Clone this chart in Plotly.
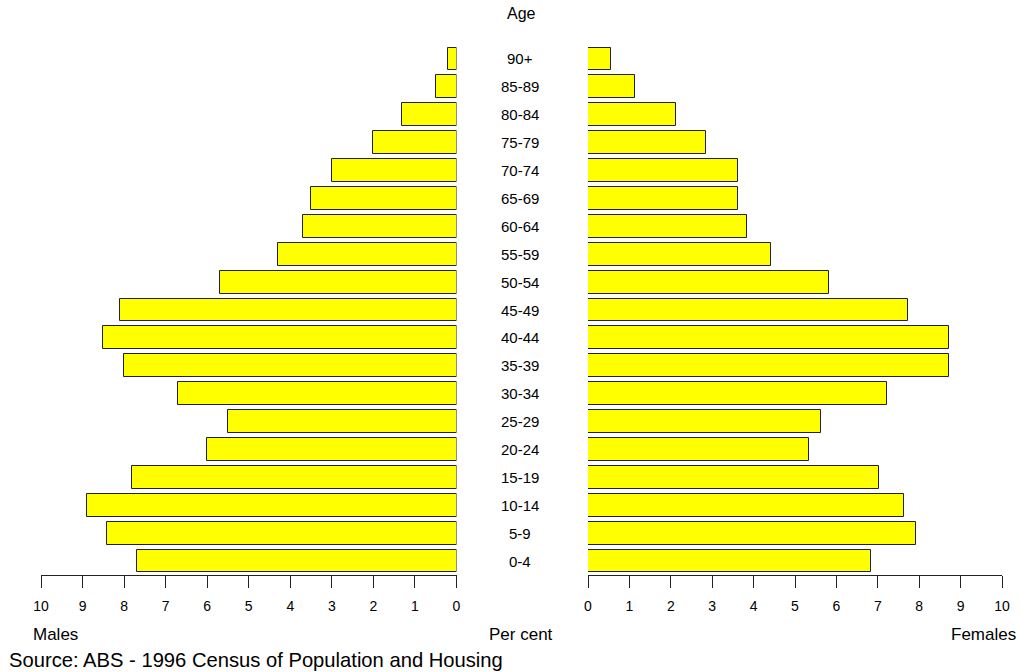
import plotly.graph_objects as go

age_groups = ["0-4", "5-9", "10-14", "15-19", "20-24", "25-29", "30-34", "35-39",
              "40-44", "45-49", "50-54", "55-59", "60-64", "65-69", "70-74",
              "75-79", "80-84", "85-89", "90+"]
males = [7.7, 8.4, 8.9, 7.8, 6.0, 5.5, 6.7, 8.0, 8.5, 8.1, 5.7, 4.3, 3.7, 3.5,
         3.0, 2.0, 1.3, 0.5, 0.2]
females = [6.83, 7.92, 7.63, 7.03, 5.33, 5.63, 7.22, 8.71, 8.71, 7.72, 5.83,
           4.43, 3.83, 3.63, 3.63, 2.84, 2.13, 1.14, 0.55]
tick_vals = list(range(0, 11))
tick_text = [str(v) for v in tick_vals]

W, H = 1020, 672
FONT = "Liberation Sans, Arial, sans-serif"
idx = list(range(len(age_groups)))

fig = go.Figure()
bar_style = dict(orientation="h", marker=dict(color="#FFFF00", line=dict(color="#222222", width=1)),
                 width=0.82, showlegend=False, hoverinfo="x+text")
fig.add_trace(go.Bar(x=males, y=idx, xaxis="x", yaxis="y", text=age_groups,
                     textposition="none", **bar_style))
fig.add_trace(go.Bar(x=females, y=idx, xaxis="x2", yaxis="y", text=age_groups,
                     textposition="none", **bar_style))

axis_common = dict(showline=True, linecolor="#222222", linewidth=1, ticks="outside",
                   ticklen=12, tickwidth=1, tickcolor="#222222", showgrid=False,
                   zeroline=False, tickvals=tick_vals, ticktext=tick_text,
                   tickfont=dict(family=FONT, size=14, color="black"),
                   ticklabelstandoff=6, anchor="y", fixedrange=True, automargin=False)

ybot = (H - 575) / H
ytop = (H - 45) / H
fig.update_layout(
    template="none",
    width=W, height=H,
    margin=dict(l=0, r=0, t=0, b=0, pad=0, autoexpand=False),
    paper_bgcolor="white", plot_bgcolor="white",
    bargap=0,
    xaxis=dict(domain=[41 / W, 456.5 / W], range=[10, 0], **axis_common),
    xaxis2=dict(domain=[588 / W, 1002 / W], range=[0, 10], **axis_common),
    yaxis=dict(domain=[ybot, ytop], range=[-0.5, 18.5], visible=False, fixedrange=True,
               automargin=False),
    font=dict(family=FONT, color="black"),
)

annotations = []
for i, g in enumerate(age_groups):
    annotations.append(dict(x=520 / W, y=i, xref="paper", yref="y", text=g,
                            showarrow=False, font=dict(size=15), xanchor="center",
                            yanchor="middle"))
annotations += [
    dict(x=521 / W, y=1 - 13 / H, xref="paper", yref="paper", text="Age", showarrow=False,
         font=dict(size=16), xanchor="center", yanchor="middle"),
    dict(x=521 / W, y=1 - 634 / H, xref="paper", yref="paper", text="Per cent", showarrow=False,
         font=dict(size=17), xanchor="center", yanchor="middle"),
    dict(x=31 / W, y=1 - 634 / H, xref="paper", yref="paper", text="Males", showarrow=False,
         font=dict(size=17), xanchor="left", yanchor="middle"),
    dict(x=1018 / W, y=1 - 634 / H, xref="paper", yref="paper", text="Females", showarrow=False,
         font=dict(size=17), xanchor="right", yanchor="middle"),
    dict(x=7 / W, y=1 - 660 / H, xref="paper", yref="paper",
         text="Source: ABS - 1996 Census of Population and Housing", showarrow=False,
         font=dict(size=20.2), xanchor="left", yanchor="middle"),
]
fig.update_layout(annotations=annotations)

fig.write_html("out.html", config={"displayModeBar": False},
               post_script="document.body.style.margin='0px';document.body.style.overflow='hidden';")
